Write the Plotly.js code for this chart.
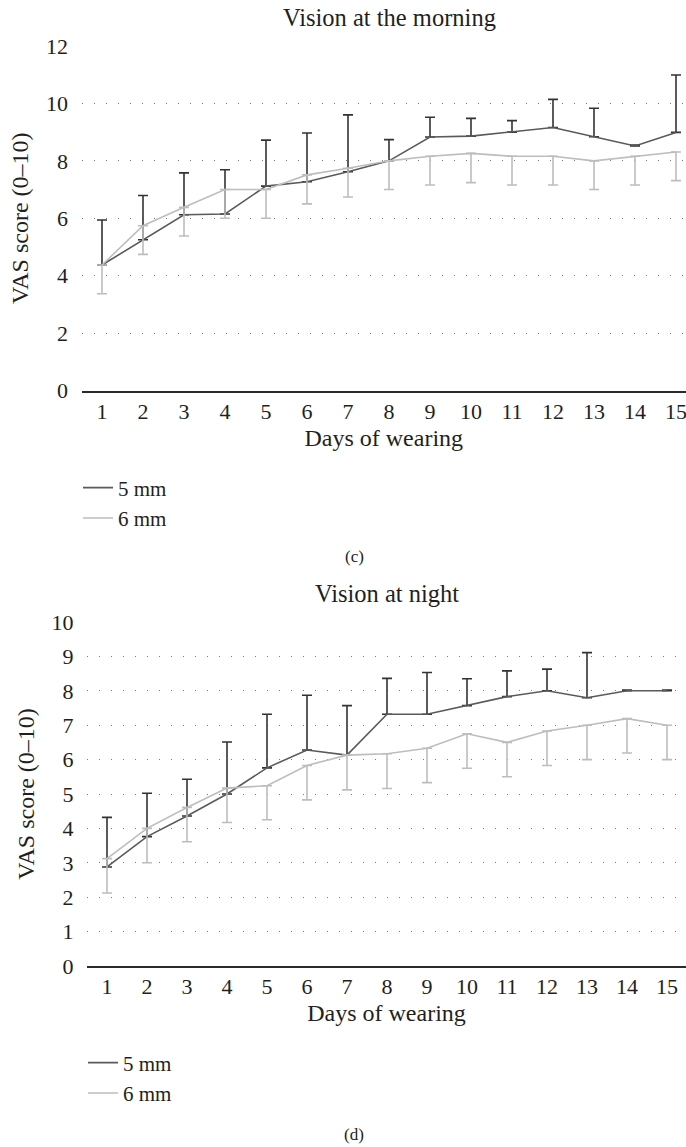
<!DOCTYPE html>
<html>
<head>
<meta charset="utf-8">
<script src="https://cdn.plot.ly/plotly-3.0.1.min.js"></script>
<style>html,body{margin:0;padding:0;background:#fff}#chart{width:686px;height:1147px}</style>
</head>
<body>
<div id="chart"></div>
<script>
// ---- data ----
const days = [1,2,3,4,5,6,7,8,9,10,11,12,13,14,15];
const dayLabels = ['1','2','3','4','5','6','7','8','9','10','11','12','13','14','15'];
const seriesNames = ['5 mm', '6 mm'];

// Vision at the morning
const morning5 = [4.37,5.25,6.12,6.15,7.12,7.27,7.62,8.00,8.83,8.86,9.00,9.16,8.84,8.52,8.99];
const morning5Sd = [1.57,1.54,1.46,1.54,1.60,1.70,1.98,0.74,0.69,0.62,0.40,0.98,0.99,0.03,2.00];
const morning6 = [4.37,5.74,6.38,7.00,7.00,7.51,7.74,8.00,8.16,8.26,8.16,8.16,8.00,8.16,8.31];
const morning6Sd = [1.00,1.00,1.00,1.00,1.00,1.01,1.00,1.00,1.00,1.02,1.00,1.00,1.00,1.00,1.00];

// Vision at night
const night5 = [2.88,3.76,4.36,5.00,5.76,6.28,6.13,7.32,7.32,7.57,7.83,8.00,7.80,8.00,8.00];
const night5Sd = [1.44,1.26,1.07,1.51,1.56,1.59,1.44,1.04,1.21,0.78,0.75,0.63,1.31,0.02,0.02];
const night6 = [3.12,4.00,4.61,5.17,5.24,5.83,6.13,6.17,6.33,6.75,6.50,6.83,7.00,7.19,7.00];
const night6Sd = [1.00,1.00,1.00,1.00,0.99,1.00,1.01,1.01,1.00,1.00,1.00,1.00,1.00,1.00,1.00];

const titles = ['Vision at the morning', 'Vision at night'];
const captions = ['(c)', '(d)'];
const xTitle = 'Days of wearing';
const yTitle = 'VAS score (0\u201310)';

// ---- styling ----
const W = 686, H = 1147;
const FONT = '"Liberation Serif", "Times New Roman", serif';
const TXT = '#231f20';
const DARK_LINE = '#5a5a5a', DARK_ERR = '#333333';
const LIGHT_LINE = '#bdbdbd', LIGHT_ERR = '#bdbdbd';
const py = v => 1 - v / H;
const px = v => v / W;

function tr(x, y, sd, up, name, xa, ya, legend, dark) {
  return {
    type: 'scatter', mode: 'lines', x: x, y: y, name: name,
    xaxis: xa, yaxis: ya, legend: legend,
    line: {color: dark ? DARK_LINE : LIGHT_LINE, width: 1.6},
    error_y: {
      type: 'data', symmetric: false,
      array: up ? sd : sd.map(() => 0),
      arrayminus: up ? sd.map(() => 0) : sd,
      color: dark ? DARK_ERR : LIGHT_ERR, thickness: 1.6, width: 5
    },
    hoverinfo: 'x+y'
  };
}

const data = [
  tr(days, morning5, morning5Sd, true, seriesNames[0], 'x', 'y', 'legend', true),
  tr(days, morning6, morning6Sd, false, seriesNames[1], 'x', 'y', 'legend', false),
  tr(days, night5, night5Sd, true, seriesNames[0], 'x2', 'y2', 'legend2', true),
  tr(days, night6, night6Sd, false, seriesNames[1], 'x2', 'y2', 'legend2', false)
];

function xAxis(left, spacing, anchor) {
  return {
    domain: [px(left), 1], anchor: anchor,
    range: [0.5, 0.5 + (W - left) / spacing],
    tickmode: 'array', tickvals: days, ticktext: dayLabels,
    ticklabeloverflow: 'allow',
    showgrid: false, zeroline: false,
    showline: true, linecolor: '#2b2b2b', linewidth: 2,
    ticks: '',
    tickfont: {family: FONT, size: 22, color: TXT},
    title: {text: xTitle, font: {family: FONT, size: 24, color: TXT}, standoff: 6},
    fixedrange: true
  };
}
function yAxis(top, bottom, maxV, dtick, anchor) {
  return {
    domain: [py(bottom), py(top)], anchor: anchor,
    range: [0, maxV], dtick: dtick, tick0: 0,
    showgrid: true, gridcolor: '#7a7a7a', gridwidth: 1, griddash: '1px,11px',
    zeroline: false, showline: false,
    ticks: 'outside', ticklen: 8, tickcolor: 'rgba(0,0,0,0)',
    tickfont: {family: FONT, size: 22, color: TXT},
    title: {text: yTitle, font: {family: FONT, size: 24, color: TXT}, standoff: 10},
    fixedrange: true
  };
}

const legendBase = {
  xanchor: 'left', yanchor: 'top', bgcolor: 'rgba(0,0,0,0)',
  font: {family: FONT, size: 21, color: TXT},
  tracegroupgap: 0, traceorder: 'normal'
};

const layout = {
  width: W, height: H,
  margin: {l: 0, r: 0, t: 0, b: 0},
  paper_bgcolor: '#fff', plot_bgcolor: '#fff',
  showlegend: true,
  font: {family: FONT, color: TXT},
  xaxis: xAxis(81.5, 41, 'y'),
  yaxis: yAxis(46, 390.5, 12, 2, 'x'),
  xaxis2: xAxis(87, 40, 'y2'),
  yaxis2: yAxis(622, 966, 10, 1, 'x2'),
  legend: Object.assign({}, legendBase, {x: px(78), y: py(467.5)}),
  legend2: Object.assign({}, legendBase, {x: px(83), y: py(1042.5)}),
  annotations: [
    {text: titles[0], xref: 'paper', yref: 'paper', x: px(389), y: py(17), xanchor: 'center', yanchor: 'middle', showarrow: false, font: {family: FONT, size: 24.5, color: TXT}},
    {text: titles[1], xref: 'paper', yref: 'paper', x: px(387), y: py(593), xanchor: 'center', yanchor: 'middle', showarrow: false, font: {family: FONT, size: 24.5, color: TXT}},
    {text: captions[0], xref: 'paper', yref: 'paper', x: px(354), y: py(556), xanchor: 'center', yanchor: 'middle', showarrow: false, font: {family: FONT, size: 17, color: TXT}},
    {text: captions[1], xref: 'paper', yref: 'paper', x: px(354), y: py(1134), xanchor: 'center', yanchor: 'middle', showarrow: false, font: {family: FONT, size: 17, color: TXT}}
  ]
};

Plotly.newPlot('chart', data, layout, {displayModeBar: false, staticPlot: true});
</script>
</body>
</html>
